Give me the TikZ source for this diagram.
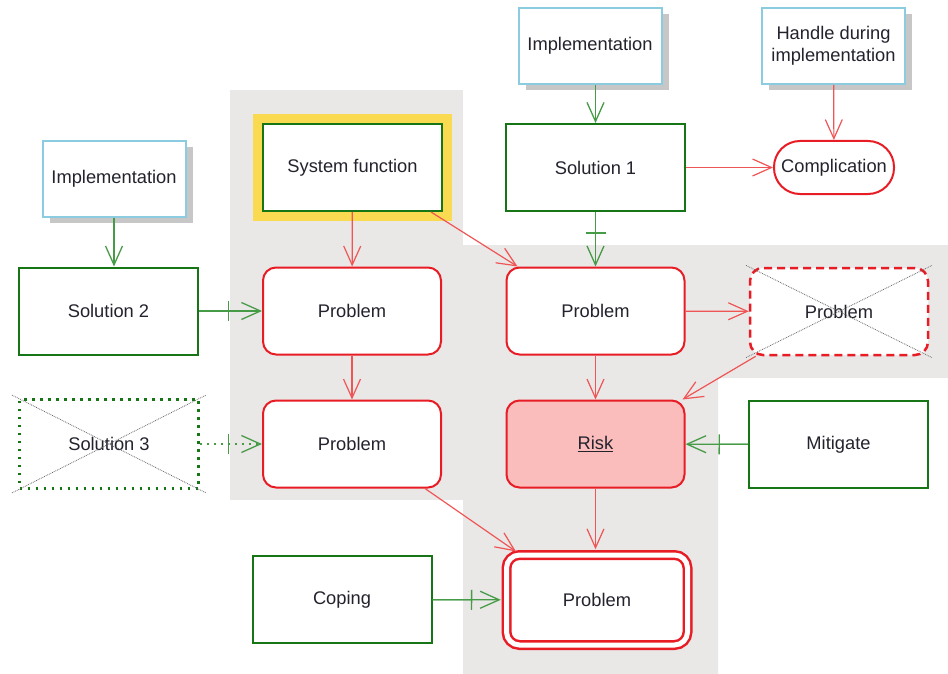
\documentclass[tikz,border=0pt]{standalone}
\usepackage{fontspec}
\setmainfont{Liberation Sans}
\usetikzlibrary{arrows.meta,shadows}

\definecolor{boxred}{RGB}{232,28,36}
\definecolor{linered}{RGB}{240,85,85}
\definecolor{boxgreen}{RGB}{22,118,22}
\definecolor{linegreen}{RGB}{70,155,70}
\definecolor{boxblue}{RGB}{140,204,224}
\definecolor{areagray}{RGB}{234,231,231}
\definecolor{hlyellow}{RGB}{250,218,80}
\definecolor{riskpink}{RGB}{251,188,188}
\definecolor{textgray}{RGB}{35,35,45}

\begin{document}
\begin{tikzpicture}
        [
        x = 1pt, y = -1pt,
        every node/.style = {font=\fontsize{18.3}{22}\selectfont, text=textgray, align=center},
        red arrow/.style = {draw=linered, line width=1.2pt, -{Straight Barb[length=19pt,width=17pt]}},
        green arrow/.style = {draw=linegreen, line width=1.3pt, -{Straight Barb[length=19pt,width=17pt]}},
        bar arrow/.style = {green arrow, #1,
            preaction={draw=linegreen, line width=1.3pt, #1, -{Bar[width=20pt]}, shorten >=33pt}},
        bar arrow/.default = solid,
        ]
        \tikzstyle{task node}=[rectangle,draw=boxblue,line width=2pt,fill=white,minimum width=143,minimum height=76,
            drop shadow={shadow xshift=7pt,shadow yshift=-6pt,fill=black!22,opacity=1}]
        \tikzstyle{solution node}=[rectangle,draw=boxgreen,line width=2pt,fill=white,minimum width=179,minimum height=87]
        \tikzstyle{problem node}=[rectangle,rounded corners=13pt,draw=boxred,line width=2pt,fill=white,minimum width=178,minimum height=87]
        \tikzstyle{complication node}=[rectangle,rounded corners=26pt,draw=boxred,line width=2pt,fill=white,minimum width=120,minimum height=53]
        \tikzstyle{final node}=[problem node,double=white,double distance=5pt,line width=2.5pt,minimum width=181,minimum height=90]
        \tikzstyle{cross line}=[black!60,densely dotted,line width=0.8pt]

        % shaded areas
        \useasboundingbox (0,0) rectangle (948,674);
        \fill[areagray] (230,90) rectangle (463,500);
        \fill[areagray] (463,245) -- (948,245) -- (948,378) -- (718,378) -- (718,674) -- (463,674) -- cycle;

        \node[task node] (impl2) at (114,179) {Implementation};
        \node[task node] (impl1) at (590,46) {Implementation};
        \node[task node] (handle) at (833.5,46) {Handle during\\implementation};

        \node[solution node,preaction={draw=hlyellow,line width=20pt}] (sysfn) at (352.5,167.5) {System function};
        \node[solution node] (sol1) at (595.5,167.5) {Solution 1};
        \node[complication node] (compl) at (834,167.5) {Complication};
        \node[solution node] (sol2) at (108.5,311) {Solution 2};

        \node[problem node] (prob1) at (352,311) {Problem};
        \node[problem node] (prob2) at (595.5,311) {Problem};
        \node[problem node,dash pattern=on 8pt off 5pt,line width=2.5pt] (prob3) at (839,311.5) {Problem};

        \node[solution node,dash pattern=on 2.5pt off 5.5pt,line width=2.5pt,minimum height=89] (sol3) at (109,444) {Solution 3};
        \node[problem node] (prob4) at (352,444) {Problem};
        \node[problem node,fill=riskpink] (risk) at (595.5,444) {\underline{Risk}};
        \node[solution node] (mitig) at (838.5,444.5) {Mitigate};

        \node[solution node] (coping) at (342,599.5) {Coping};
        \node[final node] (final) at (597,600) {Problem};

        \draw[cross line,shorten <=-3pt,shorten >=-3pt] (prob3.north west) -- (prob3.south east);
        \draw[cross line,shorten <=-3pt,shorten >=-3pt] (prob3.south west) -- (prob3.north east);
        \draw[cross line,shorten <=-7pt,shorten >=-7pt] (sol3.north west) -- (sol3.south east);
        \draw[cross line,shorten <=-7pt,shorten >=-7pt] (sol3.south west) -- (sol3.north east);

        \draw[green arrow] (impl2.south) -- (impl2.south |- sol2.north);
        \draw[green arrow] (sol1.north |- impl1.south) -- (sol1.north);
        \draw[red arrow] (handle) -- (compl);
        \draw[red arrow] (sol1) -- (compl);
        \draw[red arrow] (sysfn) -- (prob1);
        \draw[red arrow] ([xshift=-12pt]sysfn.south east) -- ([xshift=12pt]prob2.north west);
        \draw[bar arrow] (sol1) -- (prob2);
        \draw[bar arrow] (sol2) -- (prob1);
        \draw[red arrow] (prob1) -- (prob4);
        \draw[bar arrow={dash pattern=on 2pt off 5pt}] (sol3) -- (prob4);
        \draw[red arrow] (prob2) -- (prob3);
        \draw[red arrow] (prob2) -- (risk);
        \draw[red arrow] ([xshift=7pt]prob3.south west) -- ([xshift=-3pt]risk.north east);
        \draw[bar arrow] (mitig) -- (risk);
        \draw[red arrow,shorten >=4pt] ([xshift=-17pt]prob4.south east) -- ([xshift=14pt]final.north west);
        \draw[red arrow,shorten >=4.5pt] (risk) -- (risk |- final.north);
        \draw[bar arrow,shorten >=4.5pt] (coping) -- (final);
\end{tikzpicture}
\end{document}
